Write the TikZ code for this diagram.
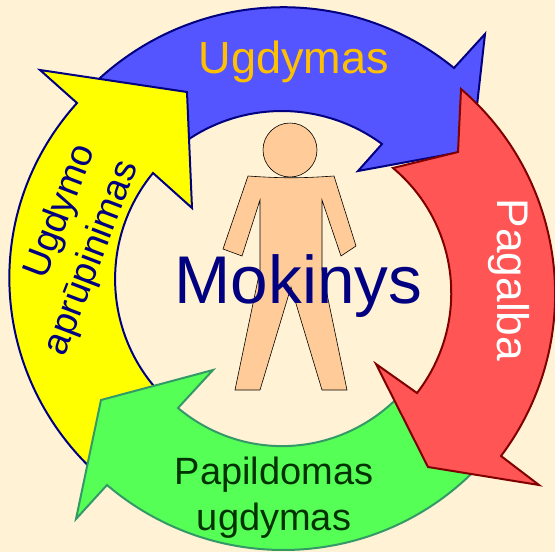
\documentclass[tikz,border=0pt]{standalone}
\usepackage{xcolor}
\usepackage{fontspec}
\setmainfont{Liberation Sans}
\definecolor{pagebg}{HTML}{FFF2D5}
\definecolor{navyline}{HTML}{000080}
\definecolor{blueleaf}{HTML}{5555FF}
\definecolor{yellowleaf}{HTML}{FFFF00}
\definecolor{greenleaf}{HTML}{55FF55}
\definecolor{greenline}{HTML}{339966}
\definecolor{redleaf}{HTML}{FF5555}
\definecolor{redline}{HTML}{800000}
\definecolor{skin}{HTML}{FFCC99}
\definecolor{goldtext}{HTML}{FFC000}
\definecolor{darkgreentext}{HTML}{003300}

\begin{document}
\begin{tikzpicture}[
  x=1pt, y=-1pt,
  leaf/.style={line width=2pt, line join=miter},
  figure/.style={draw=black, fill=skin, line width=0.6pt},
  label/.style={align=center, inner sep=0pt},
]
  % Background
  \useasboundingbox (0,0) rectangle (555,552);
  \fill[pagebg] (0,0) rectangle (555,552);

  % Arrows
  \draw[leaf, draw=navyline, fill=blueleaf]
    (100,78) .. controls (199.4,-12) and (349.6,-17.1) .. (454,68)
    -- (485,34) -- (472,150) -- (358,171) -- (382,144)
    .. controls (325.2,102) and (247.9,99.9) .. (189,139)
    -- (150,150) -- cycle;
  \draw[leaf, draw=navyline, fill=yellowleaf]
    (97,474) .. controls (-11,375.5) and (-21,212) .. (77,103)
    -- (40,70) -- (187,92) -- (192,208) -- (153,173)
    .. controls (99.9,237.7) and (102.9,331.9) .. (160,393)
    -- cycle;
  \draw[leaf, draw=greenline, fill=greenleaf]
    (480,465) .. controls (380.8,570.6) and (216.9,578.4) .. (107,485)
    -- (76,519) -- (101,400) -- (213,370) -- (178,408)
    .. controls (246.1,465) and (344.9,457) .. (404,391)
    -- cycle;
  \draw[leaf, draw=redline, fill=redleaf]
    (461,89) .. controls (568.9,181.8) and (586.5,342.2) .. (501,456)
    -- (539,485) -- (428,467) -- (376,364) -- (417,393)
    .. controls (470.7,323.7) and (460.2,224.4) .. (393,168)
    -- (458,152) -- cycle;

  % Figure
  \node[figure, circle, minimum size=54pt, inner sep=0pt] (head) at (290,150) {};
  \draw[figure] (248,176) to[bend right=4] (334,176) -- (356,246) -- (341,256)
    -- (322,200) -- (322,270) -- (347,390) -- (322,390) -- (291,287)
    -- (260,390) -- (235,390) -- (260,270) -- (260,200) -- (242,256) -- (223,249) -- cycle;

  % Labels
  \node[label, text=navyline, font=\fontsize{67.5}{72}\selectfont] (mokinys) at (298.5,286) {Mokinys};
  \node[label, text=goldtext, font=\fontsize{45}{48}\selectfont] (ugdymas) at (294,62) {Ugdymas};
  \node[label, text=white, rotate=-90, font=\fontsize{44.3}{48}\selectfont] (pagalba) at (509,280) {Pagalba};
  \node[label, text=darkgreentext, font=\fontsize{38}{46}\selectfont] (papildomas) at (274,498) {Papildomas\\ugdymas};
  \node[label, align=right, text=navyline, rotate=69, font=\fontsize{37.5}{46}\selectfont] (aprupinimas) at (71,250) {Ugdymo\\aprūpinimas};
\end{tikzpicture}
\end{document}
